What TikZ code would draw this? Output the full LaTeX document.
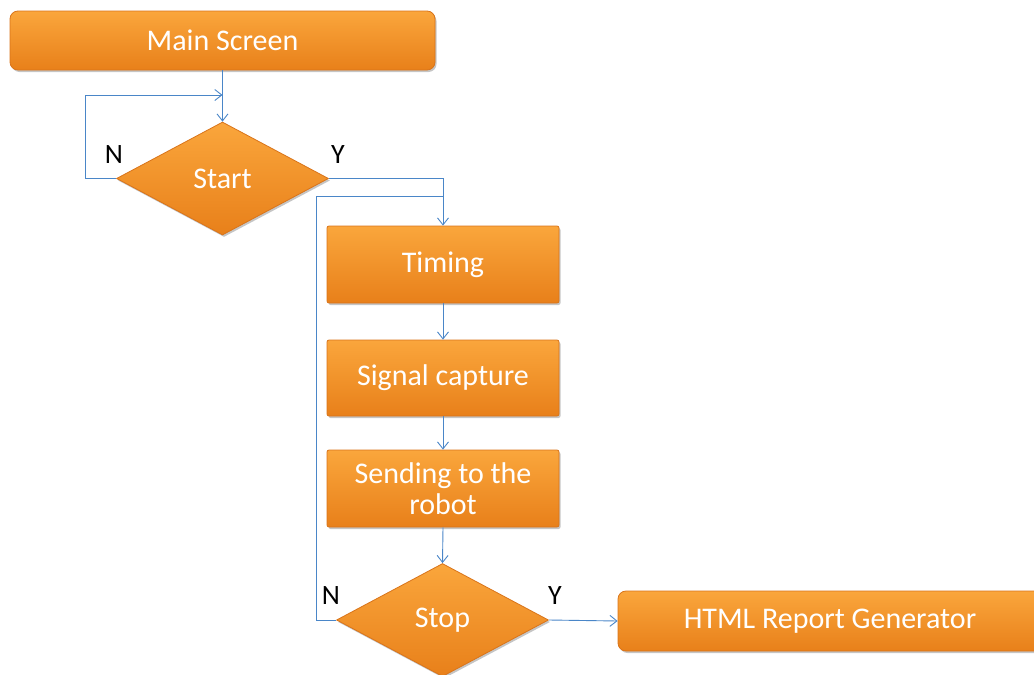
\documentclass[tikz,border=0pt]{standalone}
\usepackage{fontspec}
\setmainfont{Carlito}
\usetikzlibrary{shapes.geometric,arrows.meta,shadows}
\definecolor{orTop}{HTML}{FAA63C}
\definecolor{orBot}{HTML}{E8801A}
\definecolor{orLine}{HTML}{D9741A}
\definecolor{arrowBlue}{HTML}{4A86C8}
\begin{document}
\begin{tikzpicture}[x=1pt,y=-1pt,
  box/.style={draw=orLine,line width=0.8pt,top color=orTop,bottom color=orBot,
    text=white,font=\fontsize{30}{32}\selectfont,align=center,
    drop shadow={shadow xshift=1.5pt,shadow yshift=-2pt,fill=black!45,opacity=0.5}},
  rbox/.style={box,rounded corners=8pt},
  sbox/.style={box,rounded corners=2pt,minimum width=232pt,minimum height=77pt,inner sep=0pt},
  dec/.style={box,diamond,aspect=1.876,minimum width=212pt,minimum height=113pt,inner sep=0pt},
  conn/.style={draw=arrowBlue,line width=0.9pt,-{Straight Barb[length=7pt,width=11pt]}},
  line/.style={draw=arrowBlue,line width=0.9pt},
  lab/.style={font=\fontsize{28}{30}\selectfont,text=black}]
\useasboundingbox (0,0) rectangle (1034,675);
\node[rbox,minimum width=425pt,minimum height=59pt,inner sep=0pt] (main) at (222.5,40.5) {Main Screen};
\node[dec] (start) at (222.5,178.5) {\raisebox{-3pt}{Start}};
\node[sbox] (timing) at (443,264.5) {\raisebox{-3pt}{Timing}};
\node[sbox,minimum height=76pt] (signal) at (443,378) {\raisebox{-2pt}{Signal capture}};
\node[sbox] (send) at (443,488.5) {Sending to the\\[-1pt]robot};
\node[dec] (stop) at (442.5,620) {\raisebox{-3pt}{Stop}};
\node[rbox,minimum width=424pt,minimum height=60pt,inner sep=0pt] (html) at (830,621) {\raisebox{-2pt}{HTML Report Generator}};
% connectors
\coordinate (j1) at (222.5,95);
\coordinate (nl) at (85,178.5);
\coordinate (nt) at (85,95);
\coordinate (yr) at (443,178.5);
\coordinate (sl) at (316,620);
\coordinate (st) at (316,196);
\coordinate (sr) at (443,196);
\draw[conn] (main.south) -- (start.north);
\draw[conn] (start.west) -- (nl) -- (nt) -- (j1);
\draw[conn] (start.east) -- (yr) -- (timing.north);
\draw[line] (stop.west) -- (sl) -- (st) -- (sr);
\draw[conn] (timing.south) -- (signal.north);
\draw[conn] (signal.south) -- (send.north);
\draw[conn] (send.south) -- (stop.north);
\draw[conn] (stop.east) -- (html.west);
% labels
\node[lab] (n1) at (114,155) {N};
\node[lab] (y1) at (338,155) {Y};
\node[lab] (n2) at (331,596) {N};
\node[lab] (y2) at (555,596) {Y};
\end{tikzpicture}
\end{document}
